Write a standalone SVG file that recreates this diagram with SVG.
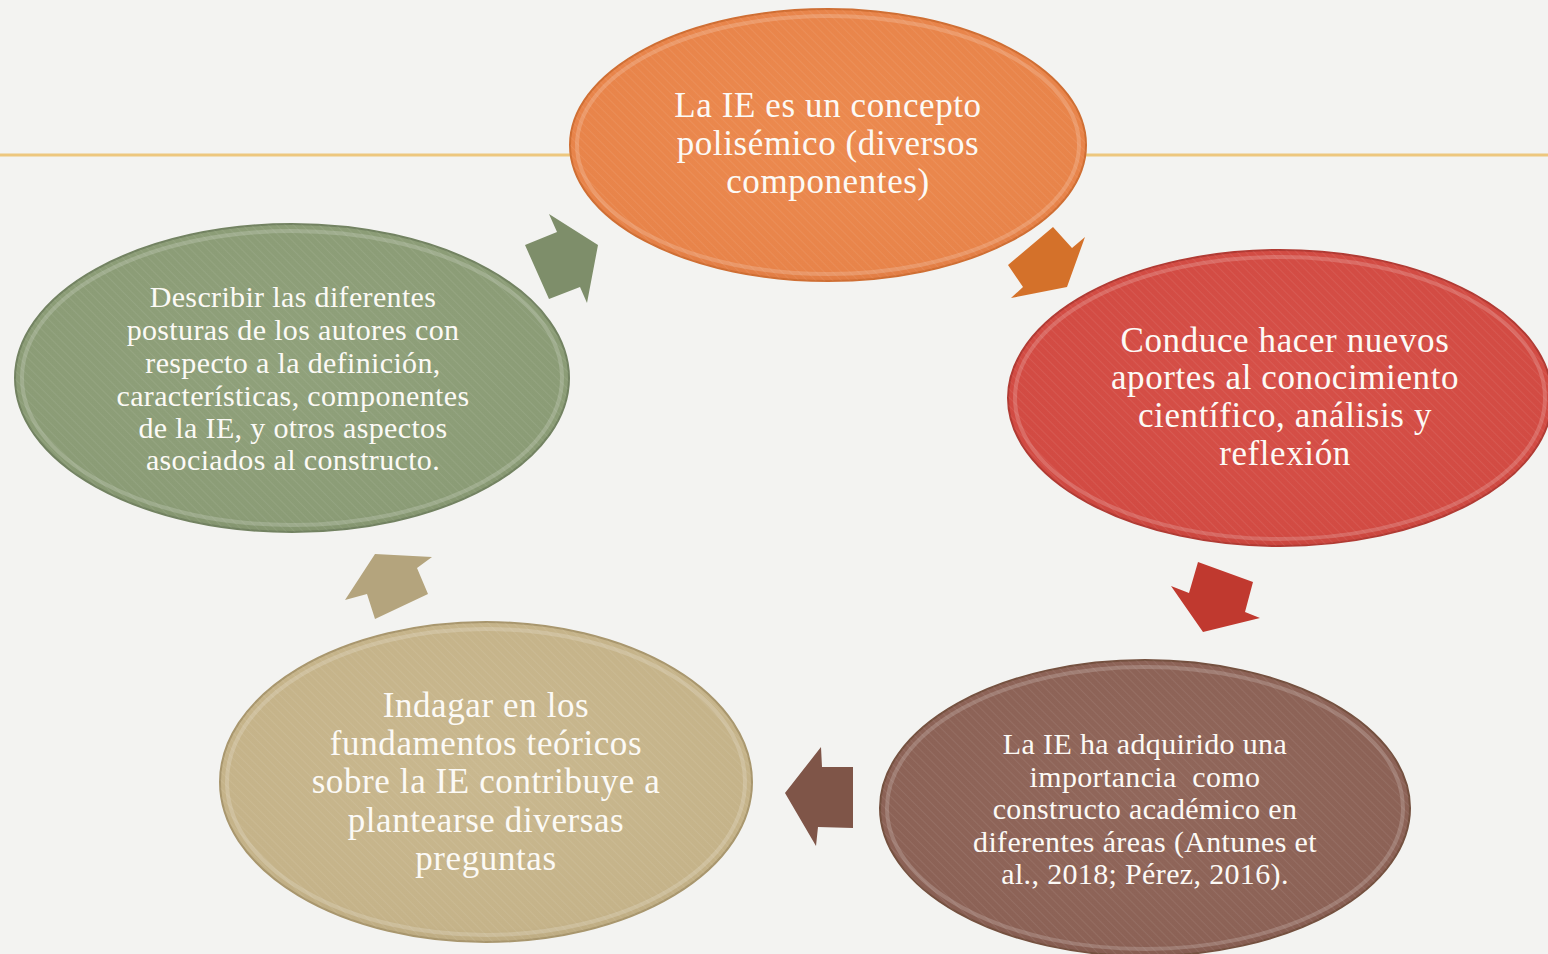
<svg xmlns="http://www.w3.org/2000/svg" width="1548" height="954" viewBox="0 0 1548 954">
  <style>
    .t { font-family: "Liberation Serif", "Times New Roman", serif; fill: #FCFAF6; text-anchor: middle; }
    .big { font-size: 35px; letter-spacing: 0.6px; }
    .small { font-size: 30px; letter-spacing: 0.35px; }
    .pre { white-space: pre; }
    .rim { fill: none; stroke: #FFFFFF; stroke-opacity: 0.18; stroke-width: 4; }
    .edge { stroke-width: 2; }
  </style>
  <defs>
    <pattern id="hatch" width="6" height="6" patternUnits="userSpaceOnUse" patternTransform="rotate(-45)">
      <line x1="0" y1="0" x2="0" y2="6" stroke="#FFFFFF" stroke-opacity="0.07" stroke-width="2"/>
    </pattern>
    <radialGradient id="gOrange" cx="0.5" cy="0.45" r="0.6">
      <stop offset="0" stop-color="#EC8A4F"/>
      <stop offset="0.85" stop-color="#E8844A"/>
      <stop offset="1" stop-color="#D7733C"/>
    </radialGradient>
    <radialGradient id="gRed" cx="0.5" cy="0.45" r="0.6">
      <stop offset="0" stop-color="#D65048"/>
      <stop offset="0.85" stop-color="#D24B43"/>
      <stop offset="1" stop-color="#BE3E37"/>
    </radialGradient>
    <radialGradient id="gBrown" cx="0.5" cy="0.45" r="0.6">
      <stop offset="0" stop-color="#91675B"/>
      <stop offset="0.85" stop-color="#8C6256"/>
      <stop offset="1" stop-color="#7C5449"/>
    </radialGradient>
    <radialGradient id="gTan" cx="0.5" cy="0.45" r="0.6">
      <stop offset="0" stop-color="#C9B88F"/>
      <stop offset="0.85" stop-color="#C5B389"/>
      <stop offset="1" stop-color="#B3A178"/>
    </radialGradient>
    <radialGradient id="gGreen" cx="0.5" cy="0.45" r="0.6">
      <stop offset="0" stop-color="#90A17B"/>
      <stop offset="0.85" stop-color="#8B9C76"/>
      <stop offset="1" stop-color="#7A8B66"/>
    </radialGradient>
  </defs>

  <rect x="0" y="0" width="1548" height="954" fill="#F3F3F1"/>
  <line x1="0" y1="155" x2="1548" y2="155" stroke="#EDC77E" stroke-width="3"/>

  <g id="connectors">
    <polygon id="arrow-orange" points="1053,227 1072,248 1085,237 1067,287 1011,298 1023,287 1008,265" fill="#D4712A"/>
    <polygon id="arrow-red" points="1198,562 1253,582 1245,612 1260,618 1203,632 1171,586 1189,593" fill="#C0392F"/>
    <polygon id="arrow-brown" points="821,747 822,767 853,767 853,828 818,827 816,846 785,793" fill="#7F5548"/>
    <polygon id="arrow-tan" points="375,554 432,557 417,568 428,594 375,619 367,594 345,600" fill="#B4A47D"/>
    <polygon id="arrow-green" points="549,214 557,232 525,245 549,299 580,287 587,303 598,245" fill="#7E8E6A"/>
  </g>

  <g id="node-orange">
    <ellipse cx="828" cy="145" rx="258" ry="136" fill="url(#gOrange)" stroke="#CF6E33" class="edge"/>
    <ellipse cx="828" cy="145" rx="258" ry="136" fill="url(#hatch)"/>
    <ellipse cx="828" cy="145" rx="251" ry="129" class="rim"/>
    <text class="t big" x="828" y="117">La IE es un concepto</text>
    <text class="t big" x="828" y="155">polisémico (diversos</text>
    <text class="t big" x="828" y="193">componentes)</text>
  </g>

  <g id="node-red">
    <ellipse cx="1280" cy="398" rx="272" ry="148" fill="url(#gRed)" stroke="#B03A33" class="edge"/>
    <ellipse cx="1280" cy="398" rx="272" ry="148" fill="url(#hatch)"/>
    <ellipse cx="1280" cy="398" rx="265" ry="141" class="rim"/>
    <text class="t big" x="1285" y="352">Conduce hacer nuevos</text>
    <text class="t big" x="1285" y="389">aportes al conocimiento</text>
    <text class="t big" x="1285" y="427">científico, análisis y</text>
    <text class="t big" x="1285" y="465">reflexión</text>
  </g>

  <g id="node-brown">
    <ellipse cx="1145" cy="808" rx="265" ry="148" fill="url(#gBrown)" stroke="#74503F" class="edge"/>
    <ellipse cx="1145" cy="808" rx="265" ry="148" fill="url(#hatch)"/>
    <ellipse cx="1145" cy="808" rx="258" ry="141" class="rim"/>
    <text class="t small" x="1145" y="754">La IE ha adquirido una</text>
    <text class="t small pre" x="1145" y="787" xml:space="preserve">importancia  como</text>
    <text class="t small" x="1145" y="819">constructo académico en</text>
    <text class="t small" x="1145" y="852">diferentes áreas (Antunes et</text>
    <text class="t small" x="1145" y="884">al., 2018; Pérez, 2016).</text>
  </g>

  <g id="node-tan">
    <ellipse cx="486" cy="782" rx="266" ry="160" fill="url(#gTan)" stroke="#A8966D" class="edge"/>
    <ellipse cx="486" cy="782" rx="266" ry="160" fill="url(#hatch)"/>
    <ellipse cx="486" cy="782" rx="259" ry="153" class="rim"/>
    <text class="t big" x="486" y="717">Indagar en los</text>
    <text class="t big" x="486" y="755">fundamentos teóricos</text>
    <text class="t big" x="486" y="793">sobre la IE contribuye a</text>
    <text class="t big" x="486" y="832">plantearse diversas</text>
    <text class="t big" x="486" y="870">preguntas</text>
  </g>

  <g id="node-green">
    <ellipse cx="292" cy="378" rx="277" ry="154" fill="url(#gGreen)" stroke="#728261" class="edge"/>
    <ellipse cx="292" cy="378" rx="277" ry="154" fill="url(#hatch)"/>
    <ellipse cx="292" cy="378" rx="270" ry="147" class="rim"/>
    <text class="t small" x="293" y="307">Describir las diferentes</text>
    <text class="t small" x="293" y="340">posturas de los autores con</text>
    <text class="t small" x="293" y="373">respecto a la definición,</text>
    <text class="t small" x="293" y="406">características, componentes</text>
    <text class="t small" x="293" y="438">de la IE, y otros aspectos</text>
    <text class="t small" x="293" y="470">asociados al constructo.</text>
  </g>
</svg>
